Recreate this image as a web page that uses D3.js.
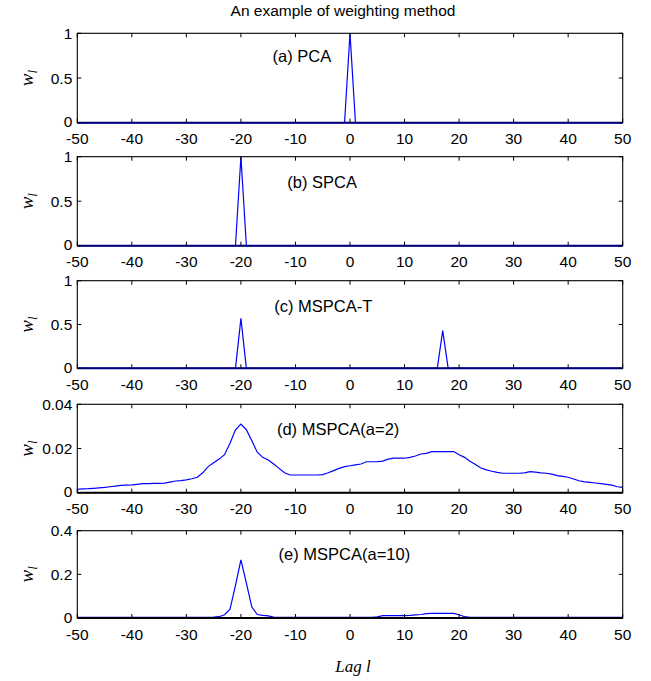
<!DOCTYPE html>
<html>
<head>
<meta charset="utf-8">
<script src="https://cdn.jsdelivr.net/npm/d3@7"></script>
<style>
  body { margin: 0; background: #fff; }
</style>
</head>
<body>
<div id="chart"></div>
<script>
// lag grid and tick labels
const lags = d3.range(-50, 51);
const xTicks = [-50, -40, -30, -20, -10, 0, 10, 20, 30, 40, 50];

// panels (a)-(c) are zero except for a few spikes
const pcaSpikes = [{lag: 0, w: 1}];
const spcaSpikes = [{lag: -20, w: 1}];
const mspcaTSpikes = [{lag: -20, w: 0.57}, {lag: 17, w: 0.43}];

// (d) MSPCA(a=2), lag -50 .. 50
const mspca2 = [
  0.0015, 0.0017, 0.0018, 0.0020, 0.0022, 0.0024, 0.0027, 0.0030, 0.0033, 0.0034,
  0.0035, 0.0038, 0.0041, 0.0041, 0.0042, 0.0042, 0.0043, 0.0048, 0.0053, 0.0055,
  0.0058, 0.0063, 0.0070, 0.0090, 0.0118, 0.0135, 0.0152, 0.0172, 0.0224, 0.0285,
  0.0310, 0.0285, 0.0235, 0.0183, 0.0160, 0.0148, 0.0130, 0.0110, 0.0090, 0.0080,
  0.0080, 0.0080, 0.0080, 0.0080, 0.0080, 0.0082, 0.0090, 0.0100, 0.0110, 0.0118,
  0.0122, 0.0126, 0.0130, 0.0140, 0.0140, 0.0141, 0.0143, 0.0152, 0.0156, 0.0156,
  0.0156, 0.0160, 0.0166, 0.0175, 0.0178, 0.0186, 0.0186, 0.0186, 0.0186, 0.0186,
  0.0172, 0.0160, 0.0142, 0.0128, 0.0112, 0.0103, 0.0097, 0.0092, 0.0088, 0.0088,
  0.0088, 0.0088, 0.0090, 0.0095, 0.0093, 0.0090, 0.0088, 0.0084, 0.0077, 0.0074,
  0.0070, 0.0062, 0.0054, 0.0049, 0.0047, 0.0044, 0.0041, 0.0038, 0.0034, 0.0027,
  0.0024
];

// (e) MSPCA(a=10), lag -50 .. 50
const mspca10 = [
  0.003, 0.003, 0.003, 0.003, 0.003, 0.003, 0.003, 0.003, 0.003, 0.003,
  0.003, 0.003, 0.003, 0.003, 0.003, 0.003, 0.003, 0.003, 0.003, 0.003,
  0.003, 0.003, 0.003, 0.003, 0.003, 0.004, 0.006, 0.015, 0.040, 0.150,
  0.266, 0.160, 0.050, 0.016, 0.012, 0.010, 0.004, 0.003, 0.003, 0.003,
  0.003, 0.003, 0.003, 0.003, 0.003, 0.003, 0.003, 0.003, 0.003, 0.003,
  0.003, 0.003, 0.003, 0.003, 0.003, 0.005, 0.011, 0.011, 0.011, 0.011,
  0.011, 0.012, 0.014, 0.016, 0.020, 0.021, 0.021, 0.021, 0.021, 0.021,
  0.015, 0.006, 0.003, 0.003, 0.003, 0.003, 0.003, 0.003, 0.003, 0.003,
  0.003, 0.003, 0.003, 0.003, 0.003, 0.003, 0.003, 0.003, 0.003, 0.003,
  0.003, 0.003, 0.003, 0.003, 0.003, 0.003, 0.003, 0.003, 0.003, 0.003,
  0.003
];

const panelLabels = ["(a) PCA", "(b) SPCA", "(c) MSPCA-T", "(d) MSPCA(a=2)", "(e) MSPCA(a=10)"];
const yTickSets = [[0, 0.5, 1], [0, 0.5, 1], [0, 0.5, 1], [0, 0.02, 0.04], [0, 0.2, 0.4]];

function fromSpikes(spikes) {
  return lags.map(l => {
    const s = spikes.find(d => d.lag === l);
    return s ? s.w : 0;
  });
}
const series = [fromSpikes(pcaSpikes), fromSpikes(spcaSpikes), fromSpikes(mspcaTSpikes), mspca2, mspca10];

// layout
const W = 651, H = 681;
const left = 77.3, right = 622.7;
const tops = [33.3, 156.7, 280.7, 404.3, 530.7];
const bottoms = [122.7, 245.7, 368.3, 492.7, 618];
const labelLag = [-14.2, -11.5, -13.9, -13.4, -13.1];
const labelDy = [28.5, 31.5, 31.6, 30.7, 29.3];
const sans = "'Liberation Sans', Arial, sans-serif";
const serif = "'Liberation Serif', 'Times New Roman', serif";

const svg = d3.select("#chart").append("svg")
  .attr("width", W).attr("height", H)
  .style("background", "#fff");

const x = d3.scaleLinear().domain([-50, 50]).range([left, right]);

svg.append("text")
  .attr("x", 343).attr("y", 16)
  .attr("text-anchor", "middle")
  .style("font-family", sans).style("font-size", "15.5px")
  .text("An example of weighting method");

series.forEach((vals, i) => {
  const yt = yTickSets[i];
  const y = d3.scaleLinear().domain([0, yt[yt.length - 1]]).range([bottoms[i], tops[i]]);
  const g = svg.append("g");
  const tl = 4;

  // data line
  g.append("path")
    .datum(vals)
    .attr("fill", "none")
    .attr("stroke", "#0000ff")
    .attr("stroke-width", 1.2)
    .attr("d", d3.line().x((d, j) => x(lags[j])).y(d => y(d)));

  // frame
  g.append("rect")
    .attr("x", left).attr("y", tops[i])
    .attr("width", right - left).attr("height", bottoms[i] - tops[i])
    .attr("fill", "none").attr("stroke", "#000").attr("stroke-width", 1.1);
  // darken baseline where the zero line overlaps it
  g.append("line")
    .attr("x1", left).attr("x2", right)
    .attr("y1", bottoms[i]).attr("y2", bottoms[i])
    .attr("stroke", i < 3 ? "#000080" : "#000").attr("stroke-width", 2);

  // inward ticks
  xTicks.forEach(t => {
    g.append("line").attr("x1", x(t)).attr("x2", x(t))
      .attr("y1", bottoms[i]).attr("y2", bottoms[i] - tl).attr("stroke", "#000");
    g.append("line").attr("x1", x(t)).attr("x2", x(t))
      .attr("y1", tops[i]).attr("y2", tops[i] + tl).attr("stroke", "#000");
    g.append("text")
      .attr("x", x(t)).attr("y", bottoms[i] + 21.5)
      .attr("text-anchor", "middle")
      .style("font-family", sans).style("font-size", "15.5px")
      .text(t);
  });
  yt.forEach(t => {
    g.append("line").attr("x1", left).attr("x2", left + tl)
      .attr("y1", y(t)).attr("y2", y(t)).attr("stroke", "#000");
    g.append("line").attr("x1", right).attr("x2", right - tl)
      .attr("y1", y(t)).attr("y2", y(t)).attr("stroke", "#000");
    g.append("text")
      .attr("x", left - 5).attr("y", y(t) + 5.5 - (t === 0 ? 1 : 0))
      .attr("text-anchor", "end")
      .style("font-family", sans).style("font-size", "15.5px")
      .text(String(t));
  });

  // panel label
  g.append("text")
    .attr("x", x(labelLag[i])).attr("y", tops[i] + labelDy[i])
    .style("font-family", sans).style("font-size", "16.5px")
    .text(panelLabels[i]);

  // y label w_l
  const cy = (tops[i] + bottoms[i]) / 2;
  const yl = g.append("text")
    .attr("transform", `translate(33,${cy}) rotate(-90)`)
    .attr("text-anchor", "middle")
    .style("font-family", serif).style("font-style", "italic");
  yl.append("tspan").style("font-size", "19px").text("w");
  yl.append("tspan").style("font-size", "13px").attr("dy", 4).text("l");
});

svg.append("text")
  .attr("x", 353).attr("y", 672)
  .attr("text-anchor", "middle")
  .style("font-family", serif).style("font-style", "italic").style("font-size", "17px")
  .text("Lag l");
</script>
</body>
</html>
